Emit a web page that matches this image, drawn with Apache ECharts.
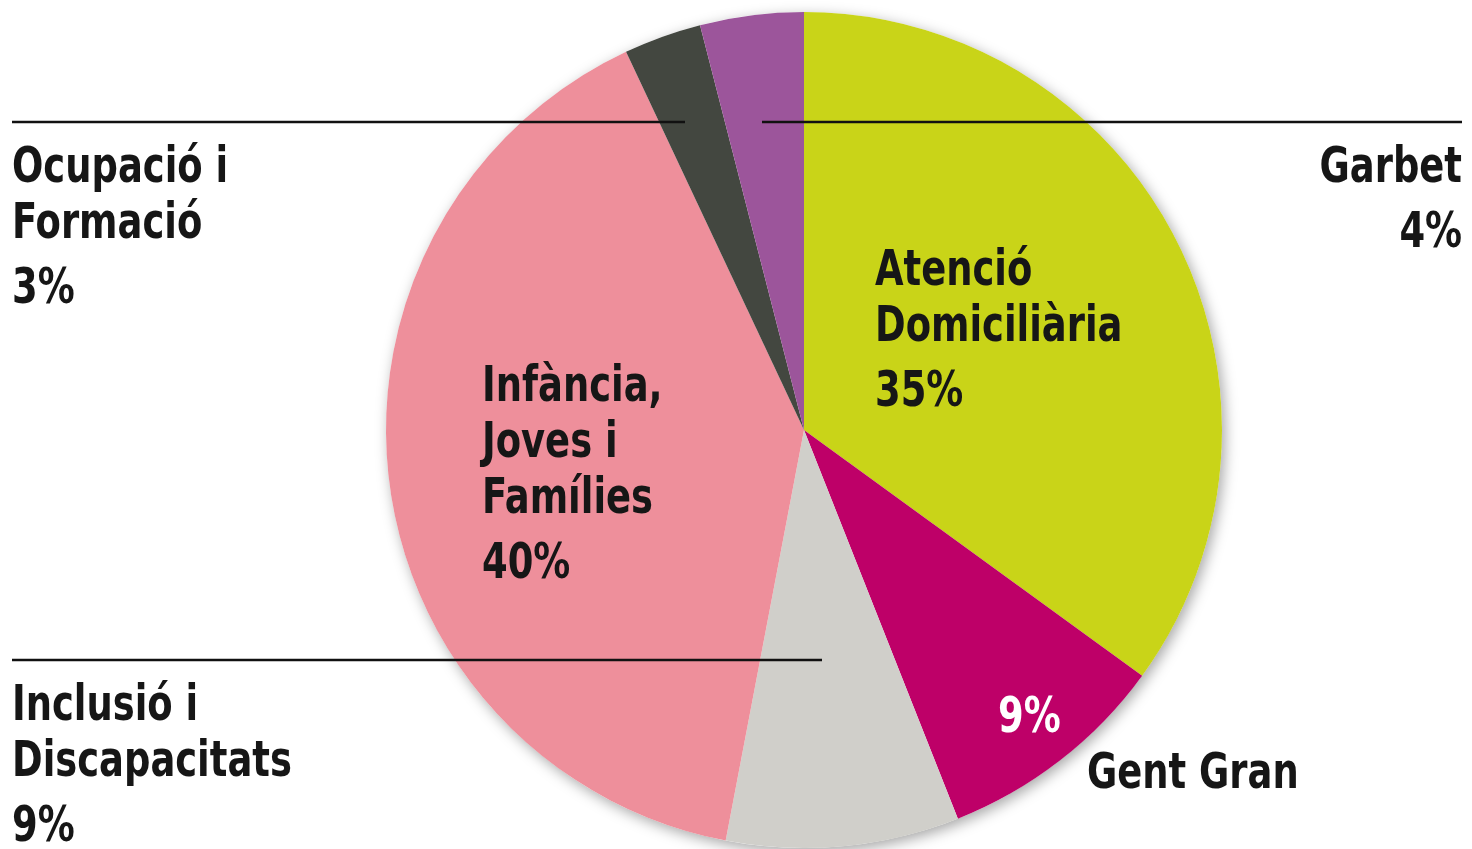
<!DOCTYPE html>
<html>
<head>
<meta charset="utf-8">
<script src="https://cdn.jsdelivr.net/npm/echarts@6/dist/echarts.min.js"></script>
<style>
  html, body { margin: 0; padding: 0; background: #fff; }
  #chart { width: 1472px; height: 849px; }
</style>
</head>
<body>
<div id="chart"></div>
<script>
// ---- data ----
const categories = ['Atenció Domiciliària', 'Gent Gran', 'Inclusió i Discapacitats', 'Infància, Joves i Famílies', 'Ocupació i Formació', 'Garbet'];
const labelLines = [['Atenció', 'Domiciliària'], ['Gent Gran'], ['Inclusió i', 'Discapacitats'], ['Infància,', 'Joves i', 'Famílies'], ['Ocupació i', 'Formació'], ['Garbet']];
const values = [35, 9, 9, 40, 3, 4];
const colors = ['#c9d418', '#be0068', '#d0cfca', '#ee8f9b', '#434740', '#9c559b'];

// ---- layout (pixels) ----
const CX = 804, CY = 430, R = 418;
const FONT = "'Liberation Sans Narrow', 'DejaVu Sans Condensed', 'Roboto', sans-serif";
const SX = 0.82;
const labelPos = [
  { x: 875, y: 244, align: 'left' },
  { x: 998, y: 691, align: 'left', nameX: 1087, nameY: 747 },
  { x: 12, y: 679, align: 'left' },
  { x: 482, y: 360, align: 'left' },
  { x: 12, y: 141, align: 'left' },
  { x: 1462, y: 141, align: 'right' }
];

const baseText = { fontFamily: FONT, fontSize: 50, fontWeight: 'bold', fill: '#161616' };
const rich = {
  n: Object.assign({}, baseText, { lineHeight: 56 }),
  p: Object.assign({}, baseText, { lineHeight: 74 }),
  w: Object.assign({}, baseText, { fill: '#ffffff', lineHeight: 56 })
};

function textEl(x, y, text, align) {
  return {
    type: 'text', z: 100, silent: true,
    x: x, y: y, scaleX: SX, scaleY: 1, originX: 0, originY: 0,
    style: Object.assign({}, baseText, { text: text, rich: rich, align: align, verticalAlign: 'top' })
  };
}

const labelEls = [];
categories.forEach((c, i) => {
  const p = labelPos[i];
  const pct = values[i] + '%';
  if (i === 1) {
    labelEls.push(textEl(p.x, p.y, '{w|' + pct + '}', 'left'));
    labelEls.push(textEl(p.nameX, p.nameY, '{n|' + labelLines[i].join(' ') + '}', 'left'));
  } else {
    labelEls.push(textEl(p.x, p.y, labelLines[i].map(s => '{n|' + s + '}').join('\n') + '\n{p|' + pct + '}', p.align));
  }
});

const chart = echarts.init(document.getElementById('chart'), null, { renderer: 'canvas' });

chart.setOption({
  backgroundColor: '#ffffff',
  animation: false,
  graphic: [
    {
      type: 'circle', z: 0, silent: true,
      shape: { cx: CX, cy: CY, r: R },
      style: { fill: '#ffffff', shadowBlur: 14, shadowColor: 'rgba(0,0,0,0.35)', shadowOffsetX: 3, shadowOffsetY: 4 }
    },
    { type: 'line', z: 100, silent: true, shape: { x1: 12, y1: 122, x2: 685, y2: 122 }, style: { stroke: '#111', lineWidth: 2.5 } },
    { type: 'line', z: 100, silent: true, shape: { x1: 762, y1: 122, x2: 1462, y2: 122 }, style: { stroke: '#111', lineWidth: 2.5 } },
    { type: 'line', z: 100, silent: true, shape: { x1: 12, y1: 660, x2: 822, y2: 660 }, style: { stroke: '#111', lineWidth: 2.5 } }
  ].concat(labelEls),
  series: [{
    type: 'pie',
    center: [CX, CY],
    radius: [0, R],
    startAngle: 90,
    clockwise: true,
    silent: true,
    itemStyle: { borderWidth: 0 },
    label: { show: false },
    labelLine: { show: false },
    data: categories.map((c, i) => ({ name: c, value: values[i], itemStyle: { color: colors[i] } }))
  }]
});
</script>
</body>
</html>
